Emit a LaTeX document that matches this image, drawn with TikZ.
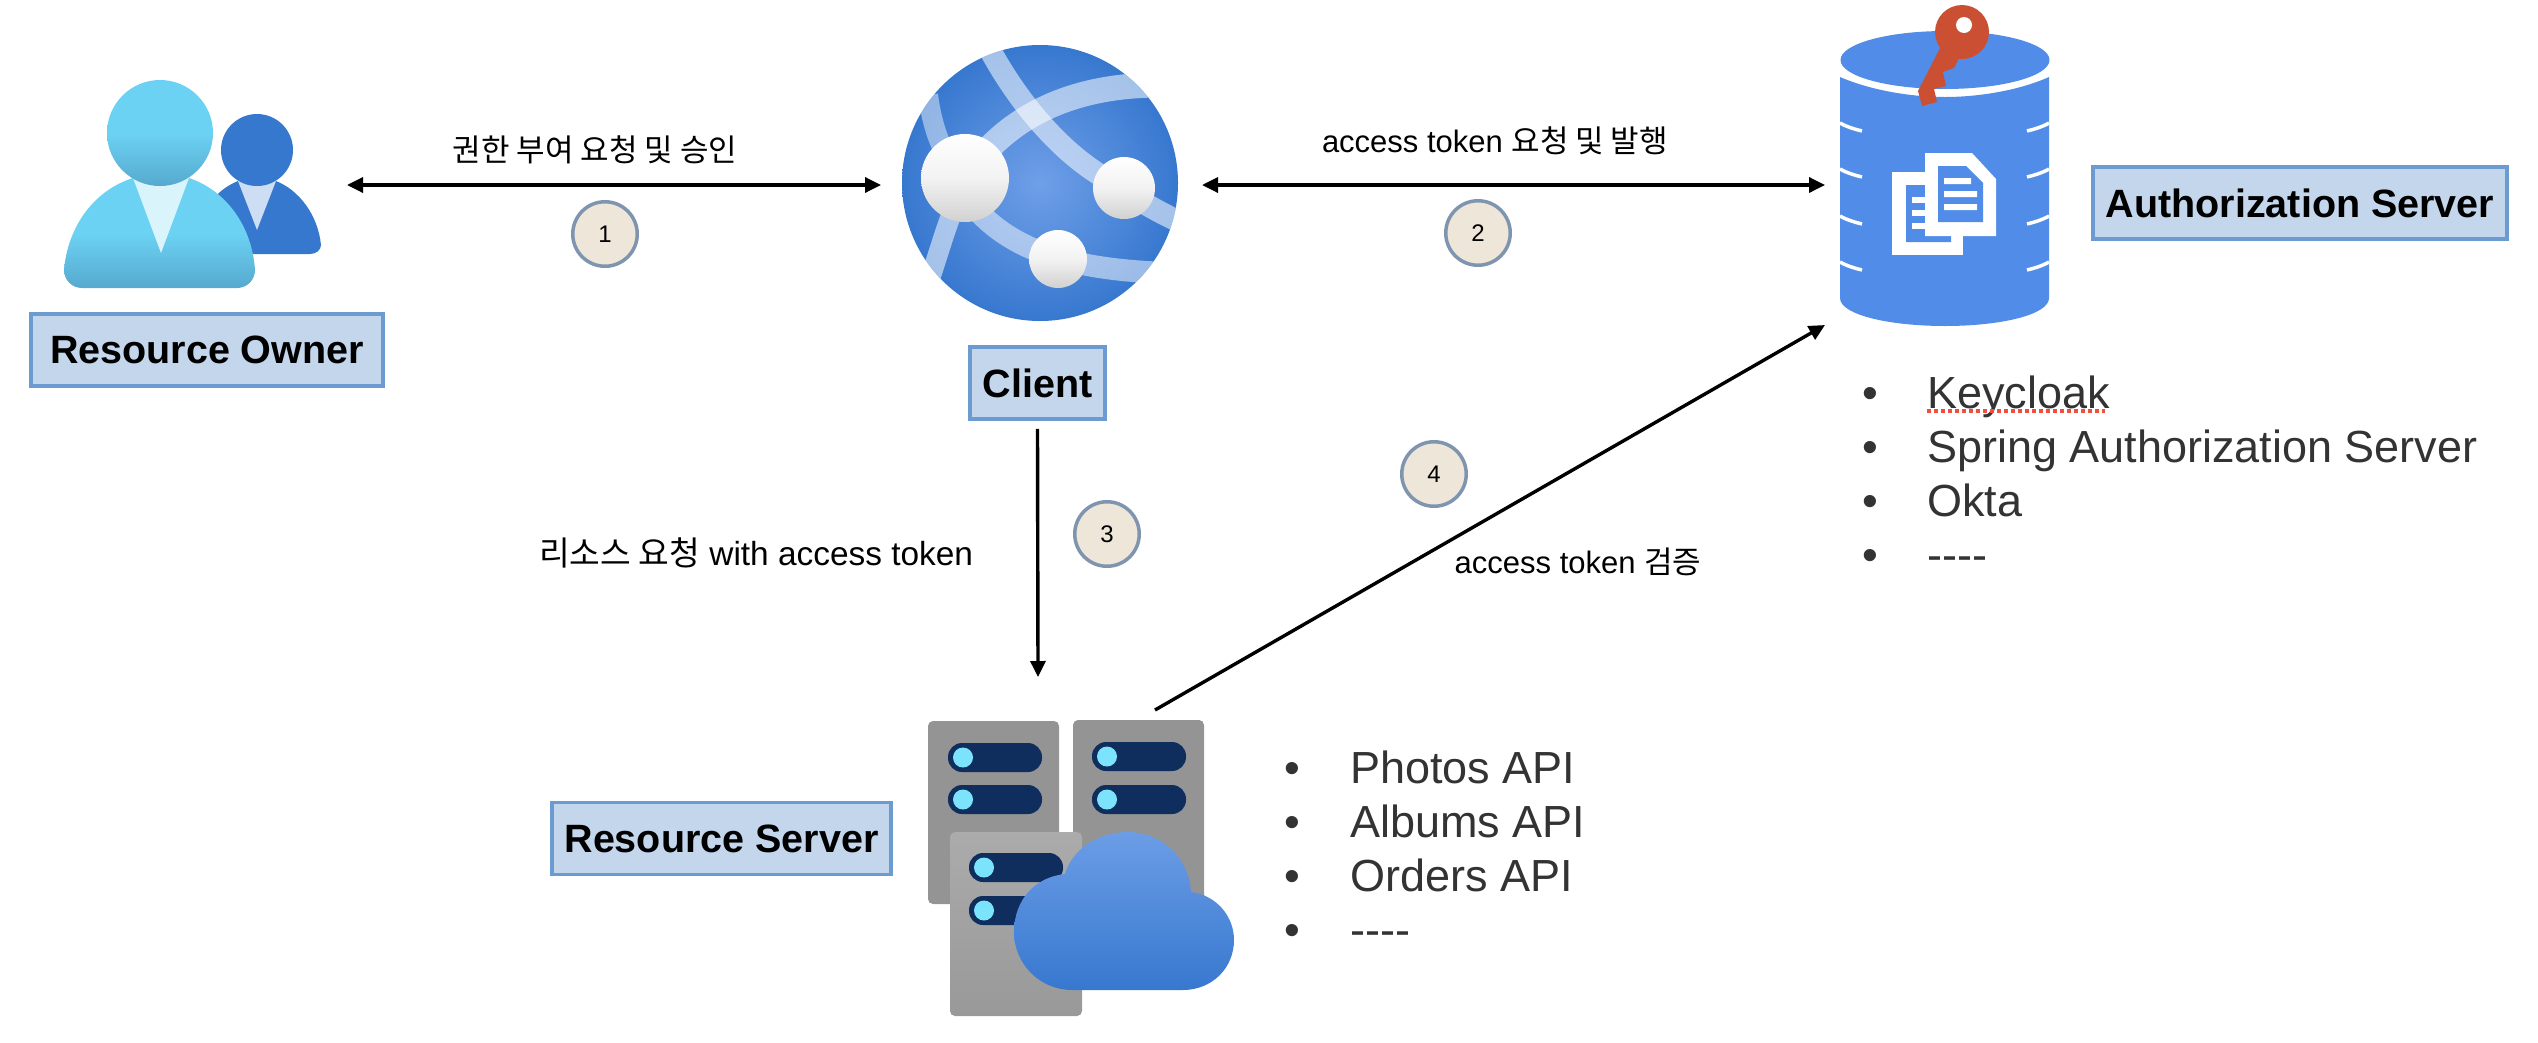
\documentclass[tikz,border=0pt]{standalone}
\usepackage{fontspec}
\setmainfont{Liberation Sans}
\newfontfamily\krfont{Noto Sans CJK KR}
\usetikzlibrary{arrows.meta}
\definecolor{boxfill}{HTML}{C3D6EC}
\definecolor{boxline}{HTML}{6C9BD2}
\definecolor{azure}{HTML}{3778CF}
\definecolor{dbblue}{HTML}{518DE8}
\definecolor{pill}{HTML}{0F2E5E}
\definecolor{led}{HTML}{7BE3FB}
\definecolor{keyred}{HTML}{CB5033}
\definecolor{owner1}{HTML}{6CD2F3}
\definecolor{owner2}{HTML}{56A9CF}
\definecolor{globe1}{HTML}{6F9FE8}
\definecolor{cloud1}{HTML}{6C9DE6}
\definecolor{beige}{HTML}{EFE6DA}
\definecolor{ringgray}{HTML}{7F95AF}
\definecolor{spellred}{HTML}{F04E3E}
\newcommand{\kr}[1]{{\krfont #1}}

\begin{document}
\begin{tikzpicture}[
      x=1pt, y=-1pt,
      font=\fontsize{31}{37}\selectfont,
      namebox/.style={draw=boxline, line width=3.5pt, fill=boxfill, inner sep=0pt,
        minimum height=72pt, font=\fontsize{39.5}{47}\selectfont\bfseries},
      hotspot/.style={inner sep=0pt, outer sep=0pt},
      stepmark/.style={circle, draw=ringgray, line width=3.5pt, fill=beige,
        minimum size=64.5pt, inner sep=0pt, font=\fontsize{24}{28}\selectfont},
      listitem/.style={anchor=base west, text=black!80, inner sep=0pt, font=\fontsize{45}{54}\selectfont},
      arrow/.style={-{Triangle[length=16pt, width=15pt]}, line width=3.4pt},
      biarrow/.style={{Triangle[length=16pt, width=15pt]}-{Triangle[length=16pt, width=15pt]}, line width=3.4pt},
      lab/.style={inner sep=0pt}
    ]
    \useasboundingbox (0,0) rectangle (2538,1042);

    % resource owner
    \fill[azure] (204,254) .. controls (198,254) and (193,250) .. (193,245)
      .. controls (196,215) and (215,190) .. (238,181) -- (276,181)
      .. controls (299,190) and (318,215) .. (321,245)
      .. controls (321,250) and (316,254) .. (310,254) -- cycle;
    \fill[azure!25!white] (238,181) -- (276,181) -- (257,230) -- cycle;
    \fill[azure] (257,150) circle (36);
    \shade[top color=owner1, bottom color=owner2, middle color=owner1]
      (82,288) .. controls (72,288) and (64,280) .. (64,270)
      .. controls (68,225) and (95,190) .. (133,178) -- (189,178)
      .. controls (225,190) and (252,225) .. (255,270)
      .. controls (255,280) and (247,288) .. (237,288) -- cycle;
    \fill[owner1!25!white] (133,178) -- (189,178) -- (161,253) -- cycle;
    \shade[top color=owner1, bottom color=owner2, middle color=owner1] (160,133) circle (53);

    % client
    \begin{scope}
      \clip (1040,183) circle (138);
      \shade[inner color=globe1, outer color=azure] (1040,183) circle (138);
      \draw[white, opacity=.55, line width=22pt] (990,50) .. controls (1020,105) and (1060,150) .. (1100,175)
        .. controls (1130,195) and (1150,208) .. (1180,222);
      \draw[white, opacity=.55, line width=25pt] (965,178) .. controls (1000,125) and (1060,85) .. (1160,85);
      \draw[white, opacity=.45, line width=20pt] (928,95) .. controls (932,125) and (940,150) .. (960,178);
      \draw[white, opacity=.55, line width=20pt] (955,205) .. controls (945,230) and (938,255) .. (928,285);
      \draw[white, opacity=.5, line width=22pt] (965,195) .. controls (1000,245) and (1060,270) .. (1170,273);
    \end{scope}
    \foreach \cx/\cy/\cr in {965/178/44, 1124/188/31, 1058/259/29}
      \shade[top color=white, bottom color=black!18, middle color=black!5] (\cx,\cy) circle (\cr);

    % authorization server
    \fill[dbblue] (1840,77) .. controls (1870,90) and (1910,97) .. (1945,97)
      .. controls (1980,97) and (2020,90) .. (2049,77) -- (2049,298)
      .. controls (2049,315) and (2000,326) .. (1945,326)
      .. controls (1890,326) and (1840,315) .. (1840,298) -- cycle;
    \fill[dbblue] (1945,60) ellipse (104.5 and 29);
    \foreach \ny in {123,169,216,262} {
      \draw[white, line width=3.5pt] (1840,\ny) .. controls (1847,\ny+4) and (1854,\ny+6) .. (1862,\ny+8);
      \draw[white, line width=3.5pt] (2049,\ny) .. controls (2042,\ny+4) and (2035,\ny+6) .. (2027,\ny+8);
    }
    \fill[white] (1892,172) rectangle (1963,255);
    \fill[dbblue] (1906,185) rectangle (1925,242) (1925,236) rectangle (1951,242);
    \foreach \ny in {197,210,223} \fill[white] (1912,\ny) rectangle (1925,\ny+6);
    \fill[white] (1925,153) -- (1972,153) -- (1996,179) -- (1996,236) -- (1925,236) -- cycle;
    \fill[dbblue] (1938,166) -- (1966,166) -- (1983,183) -- (1983,222) -- (1938,222) -- cycle;
    \fill[white] (1944,178) rectangle (1971,184) (1944,191) rectangle (1977,197) (1944,204) rectangle (1977,210);
    \fill[keyred] (1940,48) -- (1918,91) -- (1922,106) -- (1937,102) -- (1934,89) -- (1946,86)
      -- (1943,72) -- (1954,68) -- (1959,58) -- cycle;
    \fill[keyred] (1962,32) circle (27);
    \fill[white] (1964,25) circle (8);

    % resource server
    \fill[black!42, rounded corners=5pt] (928,721) rectangle (1059,904);
    \fill[black!42, rounded corners=5pt] (1073,720) rectangle (1204,903);
    \shade[top color=black!33, bottom color=black!40, rounded corners=5pt] (950,832) rectangle (1082,1016);
    \foreach \px/\py in {948/743, 948/785, 1092/742, 1092/785, 969/853, 969/896} {
      \fill[pill, rounded corners=14pt] (\px,\py) rectangle (\px+94,\py+29);
      \fill[led] (\px+15,\py+14.5) circle (10);
    }
    \shade[top color=cloud1, bottom color=azure]
      (1072,990) .. controls (1040,990) and (1014,964) .. (1014,932)
      .. controls (1014,900) and (1035,877) .. (1065,874)
      .. controls (1072,850) and (1097,832) .. (1127,832)
      .. controls (1162,832) and (1189,858) .. (1191,892)
      .. controls (1216,895) and (1234,916) .. (1234,940)
      .. controls (1234,968) and (1212,990) .. (1183,990) -- cycle;

    \node[hotspot, minimum width=287pt, minimum height=250pt] at (203.5,185) (owner) {};
    \node[hotspot, minimum width=321pt, minimum height=300pt] at (1041.5,185) (client) {};
    \node[hotspot, minimum width=240pt, minimum height=280pt] at (1945,185) (authdb) {};
    \node[hotspot, minimum width=320pt, minimum height=340pt] at (1038,847) (servers) {};
    \coordinate (serverout) at (1155,710);

    \node[namebox, minimum width=352pt] at (207,350) (ownerlabel) {Resource Owner};
    \node[namebox, minimum width=135pt] at (1037.5,383) (clientlabel) {Client};
    \node[namebox, minimum width=414pt] at (2300,203) (authlabel) {Authorization Server};
    \node[namebox, minimum width=339pt] at (721.5,838.5) (serverlabel) {Resource Server};

    \draw[biarrow] (owner.east) -- (client.west);
    \draw[biarrow] (client.east) -- (authdb.west);
    \draw[arrow] ([yshift=-8pt]clientlabel.south) -- (servers.north);
    \draw[arrow] (serverout) -- (authdb.south west);

    \node[lab] at (595,150) (grantlab) {\kr{권한 부여 요청 및 승인}};
    \node[lab] at (1495,141) (tokenlab) {access token \kr{요청 및 발행}};
    \node[lab, font=\fontsize{33.4}{40}\selectfont] at (756,553) (requestlab) {\kr{리소스 요청} with access token};
    \node[lab] at (1578,562) (checklab) {access token \kr{검증}};

    \node[stepmark] at (605,234) (one) {1};
    \node[stepmark] at (1478,233) (two) {2};
    \node[stepmark] at (1107,534) (three) {3};
    \node[stepmark] at (1434,474) (four) {4};

    \foreach \item [count=\n] in {Keycloak, Spring Authorization Server, Okta, -{}-{}-{}-} {
      \node[listitem] at (1862,354+54*\n) (authdot\n) {•};
      \node[listitem] at (1927,354+54*\n) (auth\n) {\item};
    }
    \draw[spellred, line width=4pt, dash pattern=on 4pt off 3pt] (auth1.base west)+(0,3) -- ++(178,3);

    \foreach \item [count=\n] in {Photos API, Albums API, Orders API, -{}-{}-{}-} {
      \node[listitem] at (1284,729+54*\n) (apidot\n) {•};
      \node[listitem] at (1350,729+54*\n) (api\n) {\item};
    }
  \end{tikzpicture}
\end{document}
